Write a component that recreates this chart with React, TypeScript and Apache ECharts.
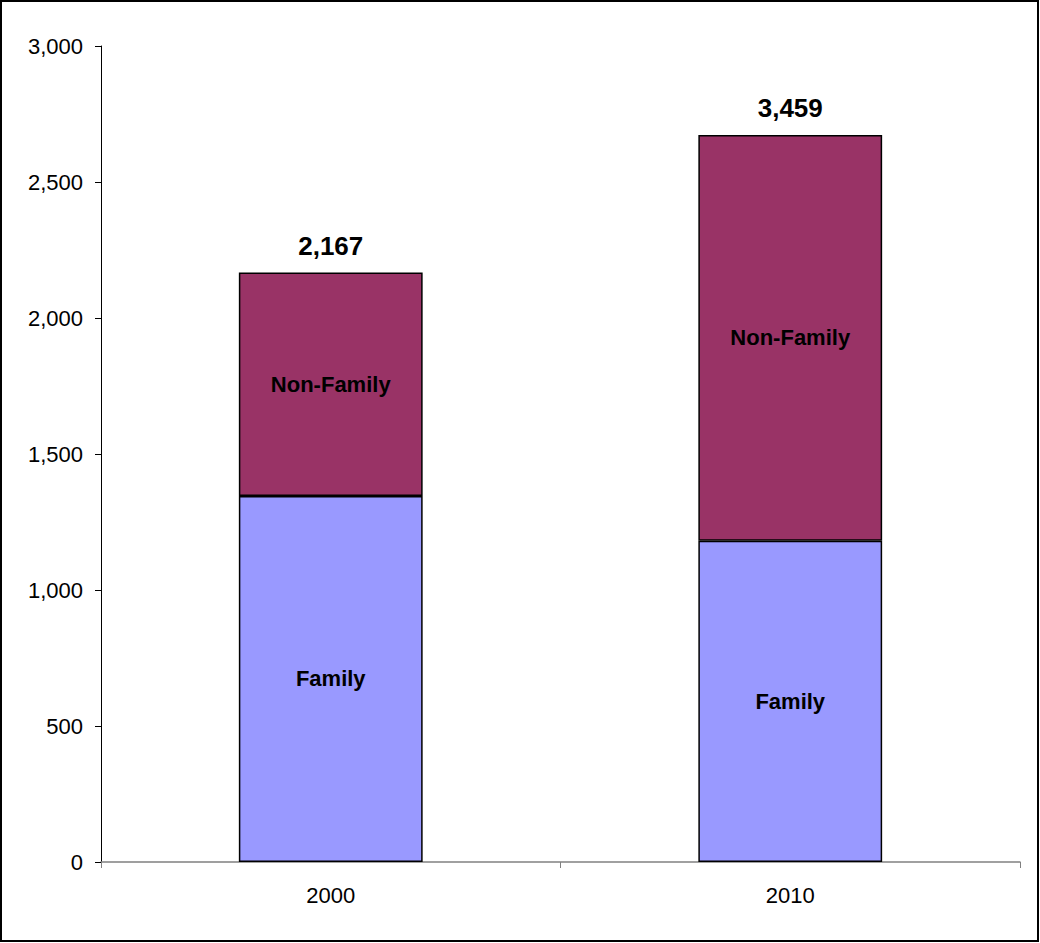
import React, { useEffect, useRef } from "react";
import * as echarts from "echarts";

const categories = ["2000", "2010"];
const familyValues = [1346, 1181];
const nonFamilyValues = [821, 1492];
const totalLabels = ["2,167", "3,459"];
const yTicks = { min: 0, max: 3000, interval: 500 };

export default function App() {
  const ref = useRef<HTMLDivElement>(null);
  useEffect(() => {
    document.body.style.margin = "0";
    const chart = echarts.init(ref.current!, null, { renderer: "svg" });
    const font = "'Liberation Sans', Arial, sans-serif";
    chart.setOption({
      animation: false,
      backgroundColor: "#ffffff",
      textStyle: { fontFamily: font },
      grid: { left: 101, right: 20, top: 46, bottom: 81 },
      graphic: [
        {
          type: "rect",
          shape: { x: 1, y: 1, width: 1037, height: 940 },
          style: { fill: "none", stroke: "#000", lineWidth: 2 },
          silent: true,
        },
      ],
      xAxis: {
        type: "category",
        data: categories,
        axisLine: { lineStyle: { color: "#808080", width: 1.5 } },
        axisTick: { show: true, length: 6, alignWithLabel: false, lineStyle: { color: "#808080" } },
        axisLabel: { color: "#000", fontSize: 22, fontFamily: font, margin: 22 },
      },
      yAxis: {
        type: "value",
        min: yTicks.min,
        max: yTicks.max,
        interval: yTicks.interval,
        splitLine: { show: false },
        axisLine: { show: true, lineStyle: { color: "#000", width: 1 } },
        axisTick: { show: true, length: 6, lineStyle: { color: "#000" } },
        axisLabel: {
          color: "#000",
          fontSize: 22,
          fontFamily: font,
          margin: 18,
          formatter: (v: number) => v.toLocaleString("en-US"),
        },
      },
      series: [
        {
          name: "Family",
          type: "bar",
          stack: "total",
          data: familyValues,
          barWidth: "40%",
          itemStyle: { color: "#9999FF", borderColor: "#000", borderWidth: 1.5 },
          label: {
            show: true,
            position: "inside",
            formatter: "Family",
            color: "#000",
            fontWeight: "bold",
            fontSize: 22,
            fontFamily: font,
          },
        },
        {
          name: "Non-Family",
          type: "bar",
          stack: "total",
          data: nonFamilyValues,
          barWidth: "40%",
          itemStyle: { color: "#993366", borderColor: "#000", borderWidth: 1.5 },
          label: {
            show: true,
            position: "inside",
            formatter: "Non-Family",
            color: "#000",
            fontWeight: "bold",
            fontSize: 22,
            fontFamily: font,
          },
        },
        {
          name: "Total",
          type: "bar",
          stack: "total",
          data: [0, 0],
          barWidth: "40%",
          itemStyle: { color: "transparent" },
          label: {
            show: true,
            position: "top",
            distance: 14,
            formatter: (p: any) => totalLabels[p.dataIndex],
            color: "#000",
            fontWeight: "bold",
            fontSize: 26,
            fontFamily: font,
          },
        },
      ],
    });
    return () => chart.dispose();
  }, []);
  return (
    <div
      ref={ref}
      style={{ position: "absolute", left: 0, top: 0, width: 1040, height: 943 }}
    />
  );
}
